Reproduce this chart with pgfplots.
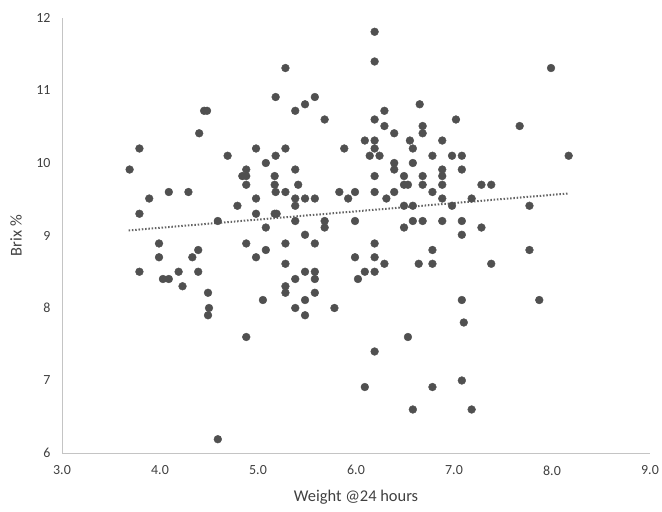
\documentclass[border=0pt]{standalone}
\usepackage{pgfplots}
\pgfplotsset{compat=1.18}
\usepackage{fontspec}
\setmainfont{Carlito}
\definecolor{dot}{RGB}{80,80,80}
\definecolor{axisgray}{RGB}{196,196,196}
\definecolor{ticktext}{RGB}{64,64,64}
\definecolor{labeltext}{RGB}{64,64,64}
\definecolor{trend}{RGB}{100,100,100}
\pgfplotstableread{
x y
3.69 9.91
3.79 10.20
3.79 9.30
3.89 9.51
3.79 8.50
3.99 8.89
3.99 8.70
4.03 8.40
4.09 8.40
4.09 9.60
4.19 8.50
4.23 8.30
4.29 9.60
4.33 8.70
4.39 8.80
4.39 8.50
4.40 10.41
4.45 10.72
4.48 10.72
4.49 8.21
4.50 8.00
4.49 7.90
4.59 9.20
4.59 6.19
4.69 10.10
4.79 9.41
4.88 9.91
4.84 9.82
4.88 9.82
4.88 9.70
4.88 8.89
4.88 7.60
4.98 10.20
4.98 9.51
4.98 9.30
4.98 8.70
5.05 8.11
5.08 10.00
5.08 9.11
5.08 8.80
5.17 9.82
5.17 9.70
5.18 9.60
5.17 9.30
5.19 9.30
5.18 10.10
5.18 10.91
5.28 11.31
5.28 10.20
5.28 9.60
5.28 8.89
5.28 8.61
5.28 8.30
5.28 8.21
5.38 10.72
5.38 9.91
5.41 9.70
5.38 9.51
5.38 9.41
5.38 9.20
5.38 8.40
5.38 8.00
5.48 10.81
5.48 9.51
5.48 9.01
5.48 8.50
5.48 8.11
5.48 7.90
5.58 10.91
5.58 9.51
5.58 8.89
5.58 8.50
5.58 8.40
5.58 8.21
5.68 10.60
5.68 9.20
5.68 9.11
5.78 8.00
5.83 9.60
5.88 10.20
5.92 9.51
5.99 9.60
5.99 9.20
5.99 8.70
6.02 8.40
6.09 10.31
6.09 8.50
6.09 6.91
6.14 10.10
6.19 11.81
6.19 11.40
6.19 10.60
6.19 10.31
6.19 10.20
6.24 10.10
6.19 9.82
6.19 9.60
6.19 8.89
6.19 8.70
6.19 8.50
6.19 7.40
6.29 10.72
6.29 10.51
6.29 8.61
6.31 9.51
6.39 10.41
6.39 10.00
6.39 9.91
6.39 9.60
6.49 9.82
6.49 9.70
6.53 9.70
6.49 9.41
6.49 9.11
6.53 7.60
6.55 10.31
6.58 10.20
6.58 10.00
6.58 9.41
6.58 9.20
6.58 6.60
6.64 8.61
6.65 10.81
6.68 10.51
6.68 10.41
6.68 9.82
6.68 9.70
6.68 9.20
6.78 10.10
6.78 9.60
6.78 8.80
6.78 8.61
6.78 6.91
6.88 10.31
6.88 9.91
6.88 9.82
6.88 9.70
6.88 9.51
6.88 9.20
6.98 10.10
6.98 9.41
7.02 10.60
7.08 10.10
7.08 9.91
7.08 9.20
7.08 9.01
7.08 8.11
7.10 7.80
7.08 7.00
7.18 9.51
7.18 6.60
7.28 9.70
7.38 9.70
7.28 9.11
7.38 8.61
7.67 10.51
7.77 9.41
7.77 8.80
7.87 8.11
7.99 11.31
8.17 10.10
}\brixdata
\begin{document}
\begin{tikzpicture}
\path[use as bounding box] (0,0) rectangle (662bp,512bp);
\begin{axis}[
  at={(62bp,59bp)}, anchor=south west,
  scale only axis, width=588bp, height=435bp,
  xmin=3, xmax=9, ymin=6, ymax=12,
  axis x line=bottom, axis y line=left,
  axis line style={-, draw=axisgray, line width=1bp},
  xtick={3,4,5,6,7,8,9}, ytick={6,7,8,9,10,11,12},
  major tick length=0pt,
  /pgf/number format/assume math mode=true,
  tick label style={font=\fontsize{14}{17}\selectfont, text=ticktext},
  x tick label style={/pgf/number format/.cd, fixed, fixed zerofill, precision=1, /tikz/.cd, yshift=-9bp},
  y tick label style={xshift=-8bp},
  xlabel={Weight @24 hours},
  ylabel={Brix \%},
  every axis x label/.style={at={(axis description cs:0.5,0)}, anchor=center, yshift=-44bp, font=\fontsize{16.5}{19}\selectfont, text=labeltext},
  every axis y label/.style={at={(axis description cs:-0.0782,0.5)}, anchor=center, rotate=90, font=\fontsize{16.5}{19}\selectfont, text=labeltext},
  clip=false,
]
\addplot[only marks, mark=*, mark size=3.9bp, mark options={fill=dot, draw=dot}] table[x=x, y=y] {\brixdata};
\addplot[no marks, draw=trend, line width=2bp, dash pattern=on 1.5bp off 1.8bp] coordinates {(3.68,9.07) (8.17,9.58)};
\end{axis}
\end{tikzpicture}
\end{document}
